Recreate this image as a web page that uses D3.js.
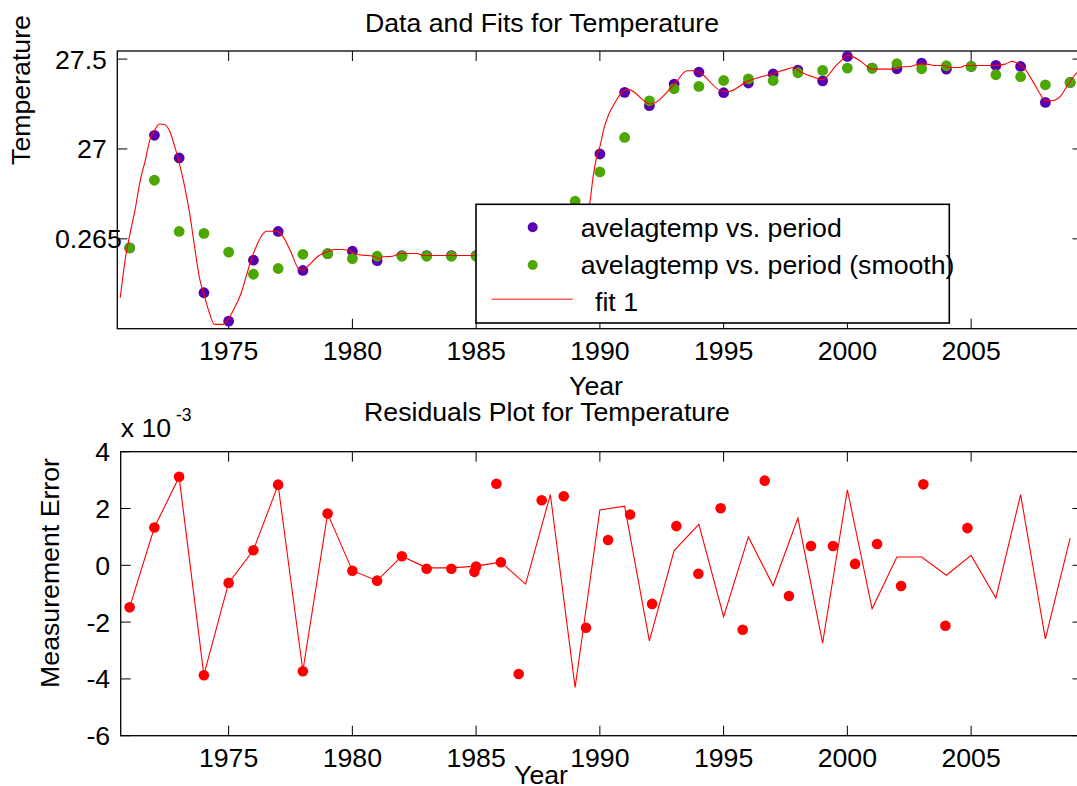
<!DOCTYPE html>
<html><head><meta charset="utf-8">
<script src="https://cdn.jsdelivr.net/npm/d3@7"></script>
<style>
body{margin:0;background:#fff}
text{font-family:"Liberation Sans",Arial,Helvetica,sans-serif;fill:#000}
</style>
</head><body>
<svg id="c" width="1077" height="786"></svg>
<script>
// ---------- data ----------
const years = [1971,1972,1973,1974,1975,1976,1977,1978,1979,1980,1981,1982,1983,1984,1985,1986,1987,1988,1989,1990,1991,1992,1993,1994,1995,1996,1997,1998,1999,2000,2001,2002,2003,2004,2005,2006,2007,2008,2009];
const avelagtemp = [26.45,27.076,26.95,26.2,26.042,26.381,26.541,26.324,26.418,26.431,26.379,26.407,26.407,26.407,26.407,26.407,26.41,26.45,26.6,26.972,27.315,27.241,27.361,27.428,27.313,27.367,27.417,27.439,27.379,27.515,27.45,27.446,27.478,27.444,27.459,27.465,27.459,27.259,27.37];
const avelagtempSmooth = [26.45,26.826,26.541,26.53,26.426,26.303,26.335,26.414,26.418,26.39,26.403,26.403,26.403,26.403,26.403,26.403,26.42,26.5,26.709,26.872,27.064,27.268,27.335,27.348,27.381,27.39,27.381,27.424,27.437,27.45,27.45,27.474,27.446,27.463,27.459,27.413,27.402,27.357,27.37];
const fitYears = [1970.62,1970.82,1971.02,1971.22,1971.42,1971.62,1971.82,1972.02,1972.2,1972.42,1972.62,1972.82,1973.02,1973.22,1973.42,1973.62,1973.82,1974.02,1974.22,1974.42,1974.76,1974.97,1975.24,1975.51,1975.71,1975.91,1976.12,1976.32,1976.52,1976.92,1977.19,1977.53,1977.8,1978.0,1978.27,1978.61,1978.95,1979.28,1979.62,1979.92,1980.19,1980.86,1981.06,1981.26,1981.6,1981.94,1982.61,1982.88,1986.0,1987.0,1988.0,1988.8,1989.3,1989.59,1989.72,1989.86,1990.02,1990.15,1990.35,1990.56,1990.76,1990.96,1991.16,1992.04,1993.05,1993.52,1993.86,1994.06,1994.98,1995.2,1995.95,1996.55,1997.0,1997.56,1997.83,1998.1,1998.64,1998.98,1999.18,1999.45,1999.78,1999.98,2000.18,2000.45,2000.72,2000.99,2001.86,2002.06,2002.53,2002.95,2003.22,2003.49,2003.89,2004.09,2004.56,2004.76,2005.97,2006.38,2006.65,2006.85,2007.19,2007.52,2007.79,2007.99,2008.26,2008.6,2008.87,2009.14,2009.5];
const fitValues = [26.172,26.385,26.533,26.663,26.82,26.931,27.052,27.107,27.139,27.135,27.098,27.014,26.913,26.792,26.644,26.459,26.283,26.181,26.089,26.024,26.024,26.052,26.117,26.2,26.292,26.385,26.459,26.514,26.542,26.542,26.514,26.422,26.339,26.326,26.357,26.403,26.426,26.441,26.441,26.431,26.413,26.403,26.39,26.40,26.403,26.418,26.418,26.407,26.407,26.41,26.45,26.52,26.6,26.7,26.839,26.95,27.024,27.107,27.19,27.246,27.292,27.324,27.33,27.25,27.367,27.435,27.435,27.422,27.32,27.32,27.376,27.403,27.42,27.444,27.453,27.43,27.40,27.385,27.403,27.45,27.496,27.52,27.515,27.496,27.468,27.444,27.444,27.455,27.459,27.472,27.472,27.464,27.464,27.453,27.453,27.464,27.464,27.472,27.487,27.478,27.443,27.369,27.306,27.268,27.268,27.292,27.348,27.403,27.45];
// residuals (x 10^-3)
const residLine = [-1.48,1.33,3.11,-3.86,-0.62,0.53,2.83,-3.72,1.82,-0.19,-0.54,0.32,-0.09,-0.09,-0.03,0.11,-0.66,2.49,-4.30,1.95,2.08,-2.66,0.52,1.44,-1.81,1.0,-0.72,1.66,-2.74,2.66,-1.53,0.29,0.29,-0.35,0.35,-1.15,2.49,-2.59,0.96];
const residDotX = [1971,1972,1973,1974,1975,1976,1977,1978,1979,1980,1981,1982,1983,1984,1985,1986,1984.93,1985.82,1986.72,1987.65,1988.54,1989.44,1990.33,1991.22,1992.11,1993.09,1993.98,1994.88,1995.77,1996.66,1997.64,1998.53,1999.42,2000.31,2001.2,2002.17,2003.07,2003.96,2004.85];
const residDotY = [-1.48,1.33,3.12,-3.87,-0.62,0.53,2.84,-3.73,1.82,-0.19,-0.54,0.32,-0.12,-0.12,-0.04,0.11,-0.23,2.87,-3.83,2.29,2.43,-2.20,0.89,1.79,-1.36,1.38,-0.30,2.01,-2.27,2.98,-1.08,0.68,0.68,0.05,0.75,-0.73,2.85,-2.13,1.31];
// ticks
const xTicks = [1975,1980,1985,1990,1995,2000,2005];
const topYTicks = [27.5,27,26.5];
const topYTickLabels = ["27.5","27","0.265"];
const botYTicks = [4,2,0,-2,-4,-6];
const botYTickLabels = ["4","2","0","-2","-4","-6"];
const legendLabels = ["avelagtemp vs. period","avelagtemp vs. period (smooth)","fit 1"];

// ---------- styles ----------
const PURPLE = "#5800b0", GREEN = "#4ca800", RED = "#ff0000";
const FS = 26.7, TICK = 10;

const svg = d3.select("#c");

const T = {l:117.3, t:51, r:1082.5, b:328.7};
const xT = d3.scaleLinear().domain([1970.5, 2009.5]).range([T.l, T.r]);
const yT = d3.scaleLinear().domain([26.0, 27.545]).range([T.b, T.t]);

const B = {l:120.7, t:451.7, r:1082.5, b:735.7};
const xB = d3.scaleLinear().domain([1970.64, 2009.5]).range([B.l, B.r]);
const yB = d3.scaleLinear().domain([-6, 4]).range([B.b, B.t]);

svg.append("defs").call(d=>{
  d.append("clipPath").attr("id","clipT").append("rect").attr("x",T.l).attr("y",T.t).attr("width",T.r-T.l).attr("height",T.b-T.t);
  d.append("clipPath").attr("id","clipB").append("rect").attr("x",B.l).attr("y",B.t).attr("width",B.r-B.l).attr("height",B.b-B.t);
});

function drawFrame(A, x, y, yTicks, yLabels, labelStartMin){
  const g = svg.append("g").attr("stroke","#000").attr("stroke-width",1.3).attr("fill","none");
  g.append("rect").attr("x",A.l).attr("y",A.t).attr("width",A.r-A.l).attr("height",A.b-A.t);
  xTicks.forEach(v=>{
    g.append("line").attr("x1",x(v)).attr("x2",x(v)).attr("y1",A.b).attr("y2",A.b-TICK).attr("stroke-width",1);
    g.append("line").attr("x1",x(v)).attr("x2",x(v)).attr("y1",A.t).attr("y2",A.t+TICK).attr("stroke-width",1);
  });
  yTicks.forEach(v=>{
    g.append("line").attr("x1",A.l).attr("x2",A.l+TICK).attr("y1",y(v)).attr("y2",y(v)).attr("stroke-width",1);
    g.append("line").attr("x1",A.r).attr("x2",A.r-TICK).attr("y1",y(v)).attr("y2",y(v)).attr("stroke-width",1);
  });
  const tg = svg.append("g").style("font-size",FS+"px");
  xTicks.forEach(v=>{
    tg.append("text").attr("x",x(v)).attr("y",A.b+31.3).attr("text-anchor","middle").text(String(v));
  });
  yTicks.forEach((v,i)=>{
    const t = tg.append("text").attr("y",y(v)+9.5).text(yLabels[i]);
    const w = t.node().getComputedTextLength();
    const rightEdge = A.l-10.5;
    t.attr("x", Math.max(labelStartMin, rightEdge - w));
  });
}

drawFrame(T, xT, yT, topYTicks, topYTickLabels, 55);
drawFrame(B, xB, yB, botYTicks, botYTickLabels, 0);

// ---------- top plot data ----------
const pT = svg.append("g").attr("clip-path","url(#clipT)");
pT.selectAll("circle.p").data(years).join("circle").attr("class","p")
  .attr("cx",d=>xT(d)).attr("cy",(d,i)=>yT(avelagtemp[i])).attr("r",5.4).attr("fill",PURPLE);
pT.selectAll("circle.g").data(years).join("circle").attr("class","g")
  .attr("cx",d=>xT(d)).attr("cy",(d,i)=>yT(avelagtempSmooth[i])).attr("r",5.4).attr("fill",GREEN);
const fitLine = d3.line().x(d=>xT(d[0])).y(d=>yT(d[1])).curve(d3.curveMonotoneX);
pT.append("path").datum(fitYears.map((y,i)=>[y,fitValues[i]]))
  .attr("d",fitLine).attr("fill","none").attr("stroke",RED).attr("stroke-width",1.1);

// ---------- legend ----------
const L = {x:476, y:204.3, w:473.3, h:118.7};
const lg = svg.append("g");
lg.append("rect").attr("x",L.x).attr("y",L.y).attr("width",L.w).attr("height",L.h)
  .attr("fill","#fff").attr("stroke","#000").attr("stroke-width",1.6);
lg.append("circle").attr("cx",532.7).attr("cy",227.3).attr("r",5).attr("fill",PURPLE);
lg.append("circle").attr("cx",532.7).attr("cy",265).attr("r",5).attr("fill",GREEN);
lg.append("line").attr("x1",491.7).attr("x2",572.7).attr("y1",299.3).attr("y2",299.3).attr("stroke","#ff5c5c").attr("stroke-width",1.4);
lg.append("text").attr("x",580.7).attr("y",236.7).style("font-size",FS+"px").text(legendLabels[0]);
lg.append("text").attr("x",580.7).attr("y",273.8).style("font-size",FS+"px").text(legendLabels[1]);
lg.append("text").attr("x",595).attr("y",310.5).style("font-size",FS+"px").text(legendLabels[2]);

// ---------- bottom plot data ----------
const pB = svg.append("g").attr("clip-path","url(#clipB)");
const rLine = d3.line().x(d=>xB(d[0])).y(d=>yB(d[1]));
pB.append("path").datum(years.map((y,i)=>[y,residLine[i]]))
  .attr("d",rLine).attr("fill","none").attr("stroke",RED).attr("stroke-width",1.1);
pB.selectAll("circle").data(residDotX).join("circle")
  .attr("cx",d=>xB(d)).attr("cy",(d,i)=>yB(residDotY[i])).attr("r",5.3).attr("fill",RED);

// ---------- titles & labels ----------
const tt = svg.append("g").style("font-size",FS+"px");
tt.append("text").attr("x",542).attr("y",32).attr("text-anchor","middle").text("Data and Fits for Temperature");
tt.append("text").attr("x",596).attr("y",395).attr("text-anchor","middle").text("Year");
tt.append("text").attr("transform","translate(30,90) rotate(-90)").attr("text-anchor","middle").text("Temperature");
tt.append("text").attr("x",547).attr("y",421).attr("text-anchor","middle").text("Residuals Plot for Temperature");
tt.append("text").attr("x",541).attr("y",784).attr("text-anchor","middle").text("Year");
tt.append("text").attr("transform","translate(59,573) rotate(-90)").attr("text-anchor","middle").text("Measurement Error");
tt.append("text").attr("x",120.7).attr("y",437.3).text("x 10");
tt.append("text").attr("x",176).attr("y",420.7).style("font-size","17.5px").text("-3");
</script>
</body></html>
